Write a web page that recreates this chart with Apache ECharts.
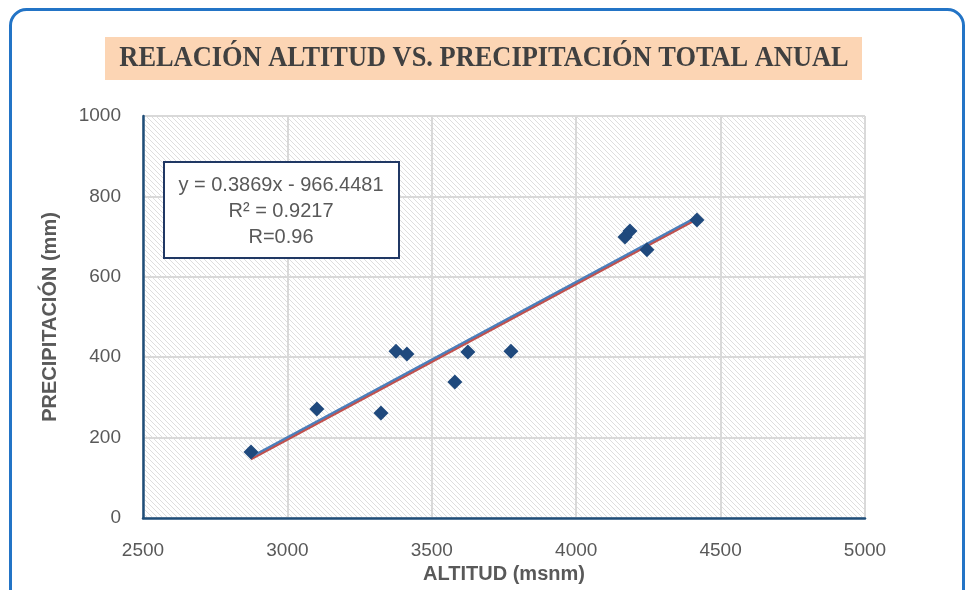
<!DOCTYPE html>
<html>
<head>
<meta charset="utf-8">
<script src="https://cdn.jsdelivr.net/npm/echarts@6/dist/echarts.min.js"></script>
<style>
  html, body { margin: 0; padding: 0; background: #ffffff; }
  #chart { width: 966px; height: 590px; }
</style>
</head>
<body>
<div id="chart"></div>
<script>
// altitude (msnm) and annual precipitation (mm) per station
var altitud = [2874, 3102, 3324, 3376, 3414, 3580, 3625, 3774, 4169, 4186, 4245, 4418];
var precip = [164, 271, 261, 415, 408, 338, 413, 415, 699, 714, 667, 741];
// trendline end points
var trendBlue = [[2874, 151], [4418, 748]];
var trendRed = [[2874, 146], [4418, 743]];
var xTicks = [2500, 3000, 3500, 4000, 4500, 5000];
var yTicks = [0, 200, 400, 600, 800, 1000];

(function() {
  // diagonal hatch for the plot area
  var hatch = document.createElement('canvas');
  hatch.width = 5; hatch.height = 5;
  var hc = hatch.getContext('2d');
  hc.fillStyle = '#ffffff';
  hc.fillRect(0, 0, 5, 5);
  hc.strokeStyle = '#dedede';
  hc.lineWidth = 1;
  hc.beginPath();
  hc.moveTo(-1, -1); hc.lineTo(6, 6);
  hc.moveTo(-1, 4); hc.lineTo(1, 6);
  hc.moveTo(4, -1); hc.lineTo(6, 1);
  hc.stroke();

  var pts = altitud.map(function(a, i) { return [a, precip[i]]; });
  var labelFont = 'Liberation Sans, Arial, sans-serif';
  var plain = function(v) { return String(v); };

  var chart = echarts.init(document.getElementById('chart'), null, { renderer: 'canvas' });
  chart.setOption({
    animation: false,
    backgroundColor: '#ffffff',
    grid: {
      left: 143, right: 101, top: 116, bottom: 72,
      show: true,
      borderWidth: 0,
      backgroundColor: { image: hatch, repeat: 'repeat' }
    },
    xAxis: {
      type: 'value',
      min: xTicks[0], max: xTicks[xTicks.length - 1], interval: 500,
      name: 'ALTITUD (msnm)',
      nameLocation: 'middle',
      nameGap: 43,
      nameTextStyle: { fontFamily: labelFont, fontWeight: 'bold', fontSize: 20, color: '#595959' },
      axisLine: { show: true, onZero: false, lineStyle: { color: '#1f4e79', width: 2.5 } },
      axisTick: { show: false },
      axisLabel: { fontFamily: labelFont, fontSize: 19, color: '#595959', margin: 23, formatter: plain },
      splitLine: { show: true, lineStyle: { color: '#d9d9d9', width: 2 } }
    },
    yAxis: {
      type: 'value',
      min: yTicks[0], max: yTicks[yTicks.length - 1], interval: 200,
      name: 'PRECIPITACIÓN (mm)',
      nameLocation: 'middle',
      nameGap: 83,
      nameTextStyle: { fontFamily: labelFont, fontWeight: 'bold', fontSize: 20, color: '#595959' },
      axisLine: { show: true, onZero: false, lineStyle: { color: '#1f4e79', width: 2.5 } },
      axisTick: { show: false },
      axisLabel: { fontFamily: labelFont, fontSize: 19, color: '#595959', margin: 22, formatter: plain },
      splitLine: { show: true, lineStyle: { color: '#d9d9d9', width: 2 } }
    },
    series: [
      {
        type: 'line',
        data: trendBlue,
        symbol: 'none',
        silent: true,
        lineStyle: { color: '#4a7ebb', width: 3 },
        z: 2
      },
      {
        type: 'line',
        data: trendRed,
        symbol: 'none',
        silent: true,
        lineStyle: { color: '#c0504d', width: 2 },
        z: 3
      },
      {
        type: 'scatter',
        data: pts,
        symbol: 'diamond',
        symbolSize: [15, 15],
        itemStyle: { color: '#1f497d', opacity: 1 },
        z: 4
      }
    ],
    graphic: [
      {
        type: 'rect',
        left: 8, top: 7,
        shape: { width: 953, height: 610, r: 16 },
        style: { fill: 'none', stroke: '#2374c6', lineWidth: 3 },
        silent: true,
        z: 100
      },
      // title banner
      {
        type: 'rect',
        left: 105, top: 37,
        shape: { width: 757, height: 43 },
        style: { fill: '#fcd5b4' },
        z: 100
      },
      {
        type: 'text',
        x: 484, y: 59,
        scaleX: 0.91,
        z: 101,
        style: {
          text: 'RELACIÓN ALTITUD VS. PRECIPITACIÓN TOTAL ANUAL',
          align: 'center',
          verticalAlign: 'middle',
          fontFamily: 'Liberation Serif, DejaVu Serif, serif',
          fontWeight: 'bold',
          fontSize: 29,
          fill: '#404040'
        }
      },
      // trendline equation box
      {
        type: 'group',
        left: 163, top: 161,
        z: 100,
        children: [
          {
            type: 'rect',
            z: 100,
            shape: { width: 235, height: 96 },
            style: { fill: '#ffffff', stroke: '#203864', lineWidth: 2 }
          },
          {
            type: 'text',
            z: 101,
            x: 117, y: 10,
            style: {
              text: 'y = 0.3869x - 966.4481\nR² = 0.9217\nR=0.96',
              align: 'center',
              fontFamily: labelFont,
              fontSize: 20,
              lineHeight: 26,
              fill: '#595959'
            }
          }
        ]
      }
    ]
  });
  window.addEventListener('resize', function() { chart.resize(); });
})();
</script>
</body>
</html>
